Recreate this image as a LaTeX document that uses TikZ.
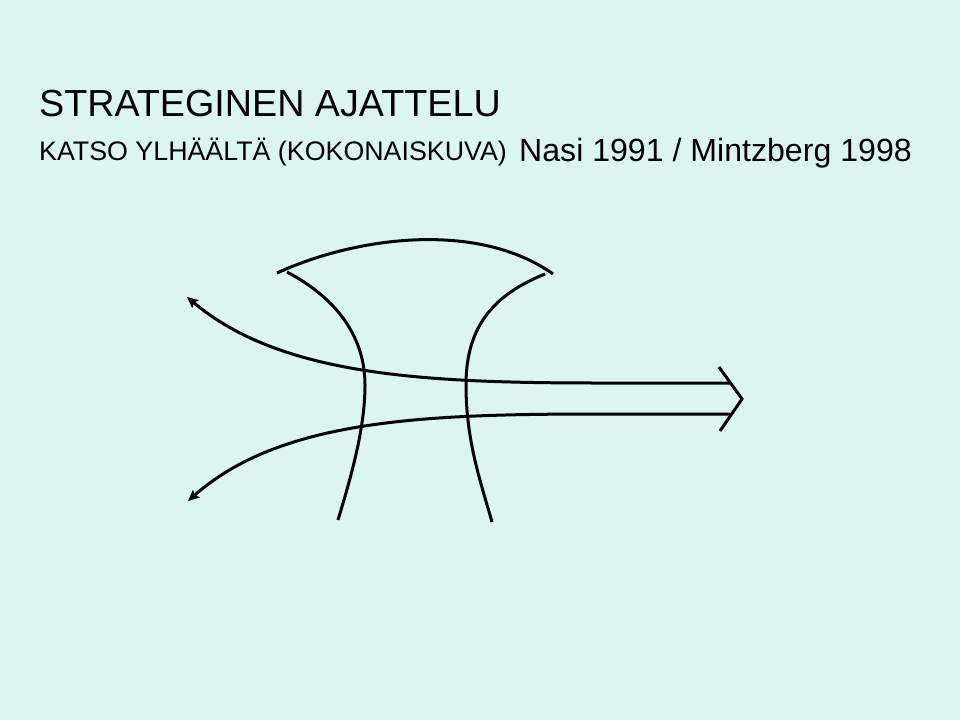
\documentclass[tikz,border=0pt]{standalone}
\usepackage{fontspec}
\setmainfont{Liberation Sans}
\usetikzlibrary{arrows.meta}
\definecolor{bg}{RGB}{221,245,242}
\tikzset{
  stroke/.style={line width=3pt, black, line cap=butt, line join=miter},
  txt/.style={anchor=base west, inner sep=0pt, text=black},
  tip/.style={-{Stealth[length=11pt,width=10pt,inset=2pt]}}
}
\begin{document}
\begin{tikzpicture}[x=1pt,y=-1pt]
\fill[bg] (0,0) rectangle (960,720);
\useasboundingbox (0,0) rectangle (960,720);
% texts
\node[txt, font=\fontsize{37.7}{40}\selectfont] (title) at (39,116) {STRATEGINEN AJATTELU};
\node[txt, font=\fontsize{26.8}{30}\selectfont] (sub) at (39,160) {KATSO YLHÄÄLTÄ (KOKONAISKUVA)};
\node[txt, font=\fontsize{32.1}{34}\selectfont] (src) at (519,161) {Nasi 1991 / Mintzberg 1998};
% coordinates
\coordinate (capL) at (277,273);
\coordinate (capR) at (553,274);
\coordinate (lvTop) at (287,272);
\coordinate (lvMid) at (365,385);
\coordinate (lvBot) at (338,520);
\coordinate (rvTop) at (545,274);
\coordinate (rvMid) at (466,385);
\coordinate (rvBot) at (492,522);
\coordinate (uEnd) at (730,383);
\coordinate (uJoin) at (600,383);
\coordinate (uTip) at (187,297);
\coordinate (lEnd) at (730,414);
\coordinate (lJoin) at (600,414);
\coordinate (lTip) at (188,501);
\coordinate (chA) at (719,367);
\coordinate (chB) at (742,399);
\coordinate (chC) at (720,431);
% cap
\draw[stroke] (capL) .. controls (360,235) and (480,222) .. (capR);
% left vertical
\draw[stroke] (lvTop) .. controls (340,300) and (365,340) .. (lvMid)
  .. controls (365,430) and (350,480) .. (lvBot);
% right vertical
\draw[stroke] (rvTop) .. controls (490,296) and (466,330) .. (rvMid)
  .. controls (466,440) and (480,480) .. (rvBot);
% upper horizontal
\draw[stroke, tip] (uEnd) -- (uJoin) .. controls (420,383) and (280,375) .. (uTip);
% lower horizontal
\draw[stroke, tip] (lEnd) -- (lJoin) .. controls (420,414) and (280,420) .. (lTip);
% chevron
\draw[stroke] (chA) -- (chB) -- (chC);
\end{tikzpicture}
\end{document}
